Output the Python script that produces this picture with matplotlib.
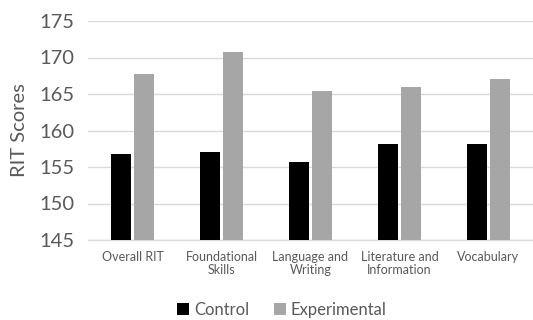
import numpy as np
import matplotlib.pyplot as plt

categories = ["Overall RIT", "Foundational\nSkills", "Language and\nWriting",
              "Literature and\nInformation", "Vocabulary"]
control = [156.8, 157.1, 155.7, 158.2, 158.1]
experimental = [167.7, 170.7, 165.4, 166.0, 167.1]

plt.rcParams['font.family'] = ['Lato', 'DejaVu Sans']
text_col = '#595959'

fig = plt.figure(figsize=(5.33, 3.2), dpi=100)
ax = fig.add_axes([88 / 533, 1 - 240 / 320, 445 / 533, 219 / 320])

x = np.arange(len(categories))
w = 0.225
gap = 0.022
ax.bar(x - w / 2 - gap, control, width=w, bottom=0, color='black', label='Control', zorder=3)
ax.bar(x + w / 2 + gap, experimental, width=w, color='#A6A6A6', label='Experimental', zorder=3)

ax.set_ylim(145, 175)
ax.set_xlim(-0.5, len(categories) - 0.5)
ax.set_yticks(np.arange(145, 176, 5))
ax.yaxis.grid(True, color='#D9D9D9', linewidth=1, zorder=0)
ax.set_axisbelow(True)

for s in ['top', 'right', 'left']:
    ax.spines[s].set_visible(False)
ax.spines['bottom'].set_color('#D9D9D9')
ax.spines['bottom'].set_linewidth(1)

ax.set_xticks(x)
ax.set_xticklabels(categories, fontsize=9, color=text_col, linespacing=1.1)
ax.tick_params(axis='x', length=0, pad=8)
ax.tick_params(axis='y', length=0, labelsize=14.5, labelcolor=text_col, pad=10)

ax.set_ylabel('RIT Scores', fontsize=14.5, color=text_col, labelpad=8)

fig.legend(loc='center', bbox_to_anchor=(282 / 533, 1 - 310 / 320), ncol=2,
           frameon=False, fontsize=12, handlelength=0.7, handleheight=0.7,
           handletextpad=0.3, columnspacing=1.5, labelcolor=text_col)

fig.savefig('out.png', dpi=100)
